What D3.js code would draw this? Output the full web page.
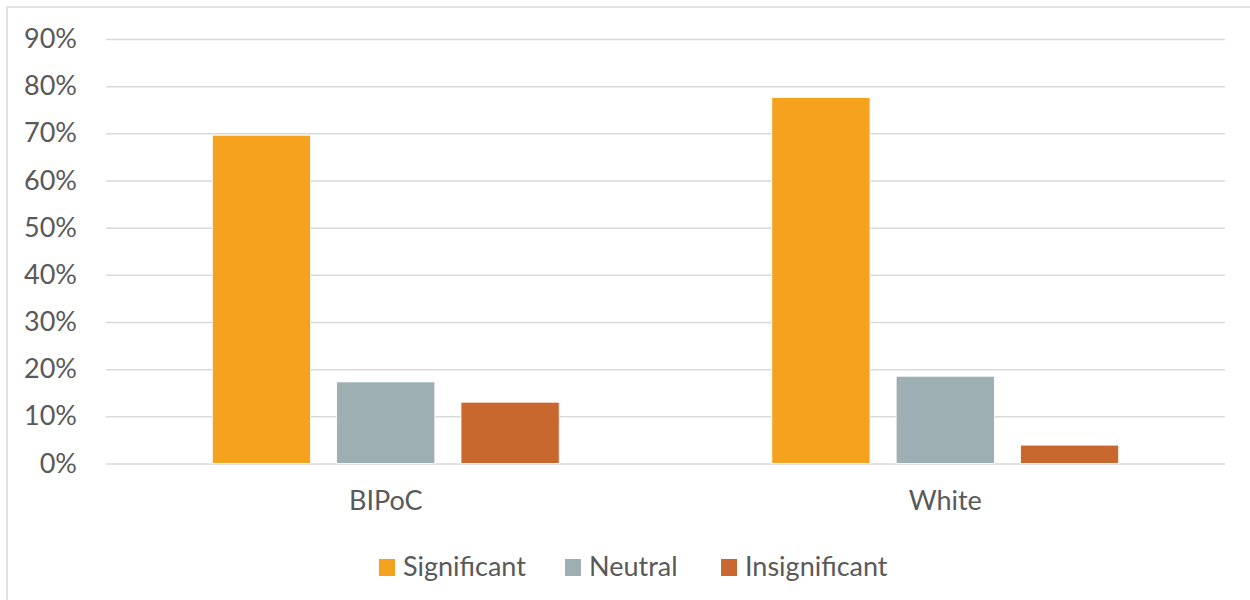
<!DOCTYPE html>
<html>
<head>
<meta charset="utf-8">
<title>Significance by group</title>
<script type="text/javascript" src="https://cdn.jsdelivr.net/npm/d3@7"></script>
<style>
body { margin: 0; background: #fff; }
#chart text { font-family: Lato, "Open Sans", sans-serif; fill: #595959; }
</style>
</head>
<body>
<div id="chart"></div>
<script type="text/javascript">
// data
var groups = ["BIPoC", "White"];
var series = ["Significant", "Neutral", "Insignificant"];
var significant = [0.696, 0.776];
var neutral = [0.173, 0.185];
var insignificant = [0.130, 0.039];
var yTicks = [0, 0.1, 0.2, 0.3, 0.4, 0.5, 0.6, 0.7, 0.8, 0.9];
var colors = ["#F5A31F", "#9EAFB4", "#C8682F"];

function bar_chart() {
    let svgWidth = 1250, svgHeight = 600;
    let margin = {top: 39, right: 25, bottom: 136.5, left: 106};
    let width = svgWidth - margin.left - margin.right,
        height = svgHeight - margin.top - margin.bottom;

    let values = [significant, neutral, insignificant];

    let svg = d3.select("#chart").append("svg")
        .attr("width", svgWidth)
        .attr("height", svgHeight);

    // chart frame (only top and left edges show)
    svg.append("path")
        .attr("d", "M7," + svgHeight + "V7H" + svgWidth)
        .attr("fill", "none")
        .attr("stroke", "#D9D9D9")
        .attr("stroke-width", 1.5);

    let g = svg.append("g")
        .attr("transform", "translate(" + margin.left + "," + margin.top + ")");

    let x0 = d3.scaleBand().domain(groups).range([0, width]).padding(0);
    let x1 = d3.scaleBand().domain(series)
        .range([x0.bandwidth() * 0.19, x0.bandwidth() * 0.81])
        .paddingInner(0.21);
    let y = d3.scaleLinear().domain([0, 0.9]).range([height, 0]);

    // gridlines + y labels
    let yAxis = g.append("g")
        .call(d3.axisLeft(y).tickValues(yTicks).tickFormat(d3.format(".0%"))
            .tickSize(-width).tickPadding(29));
    yAxis.select(".domain").remove();
    yAxis.selectAll("line").attr("stroke", "#D9D9D9").attr("stroke-width", 1.5);
    yAxis.selectAll("text").style("font-size", "27px");

    // bars
    let grp = g.selectAll(".grp")
        .data(groups)
        .enter()
        .append("g")
        .attr("class", "grp")
        .attr("transform", function(d) { return "translate(" + x0(d) + ",0)"; });

    grp.selectAll("rect")
        .data(function(d, i) {
            return series.map(function(s, j) { return {key: s, value: values[j][i], idx: j}; });
        })
        .enter()
        .append("rect")
        .attr("x", function(d) { return x1(d.key); })
        .attr("y", function(d) { return y(d.value); })
        .attr("width", x1.bandwidth())
        .attr("height", function(d) { return height - y(d.value); })
        .attr("fill", function(d) { return colors[d.idx]; })
        .attr("stroke", "#fff")
        .attr("stroke-width", 0.8);

    // x labels
    let xAxis = g.append("g")
        .attr("transform", "translate(0," + height + ")")
        .call(d3.axisBottom(x0).tickSize(0).tickPadding(27));
    xAxis.select(".domain").remove();
    xAxis.selectAll("text").style("font-size", "27px");

    // legend
    let legendX = [379, 565, 721];
    let legend = svg.selectAll(".legend")
        .data(series)
        .enter()
        .append("g")
        .attr("class", "legend")
        .attr("transform", function(d, i) { return "translate(" + legendX[i] + ",559)"; });

    legend.append("rect")
        .attr("width", 16)
        .attr("height", 17)
        .attr("fill", function(d, i) { return colors[i]; });

    legend.append("text")
        .attr("x", 24)
        .attr("y", 17)
        .style("font-size", "27px")
        .text(function(d) { return d; });
}

bar_chart();
</script>
</body>
</html>
